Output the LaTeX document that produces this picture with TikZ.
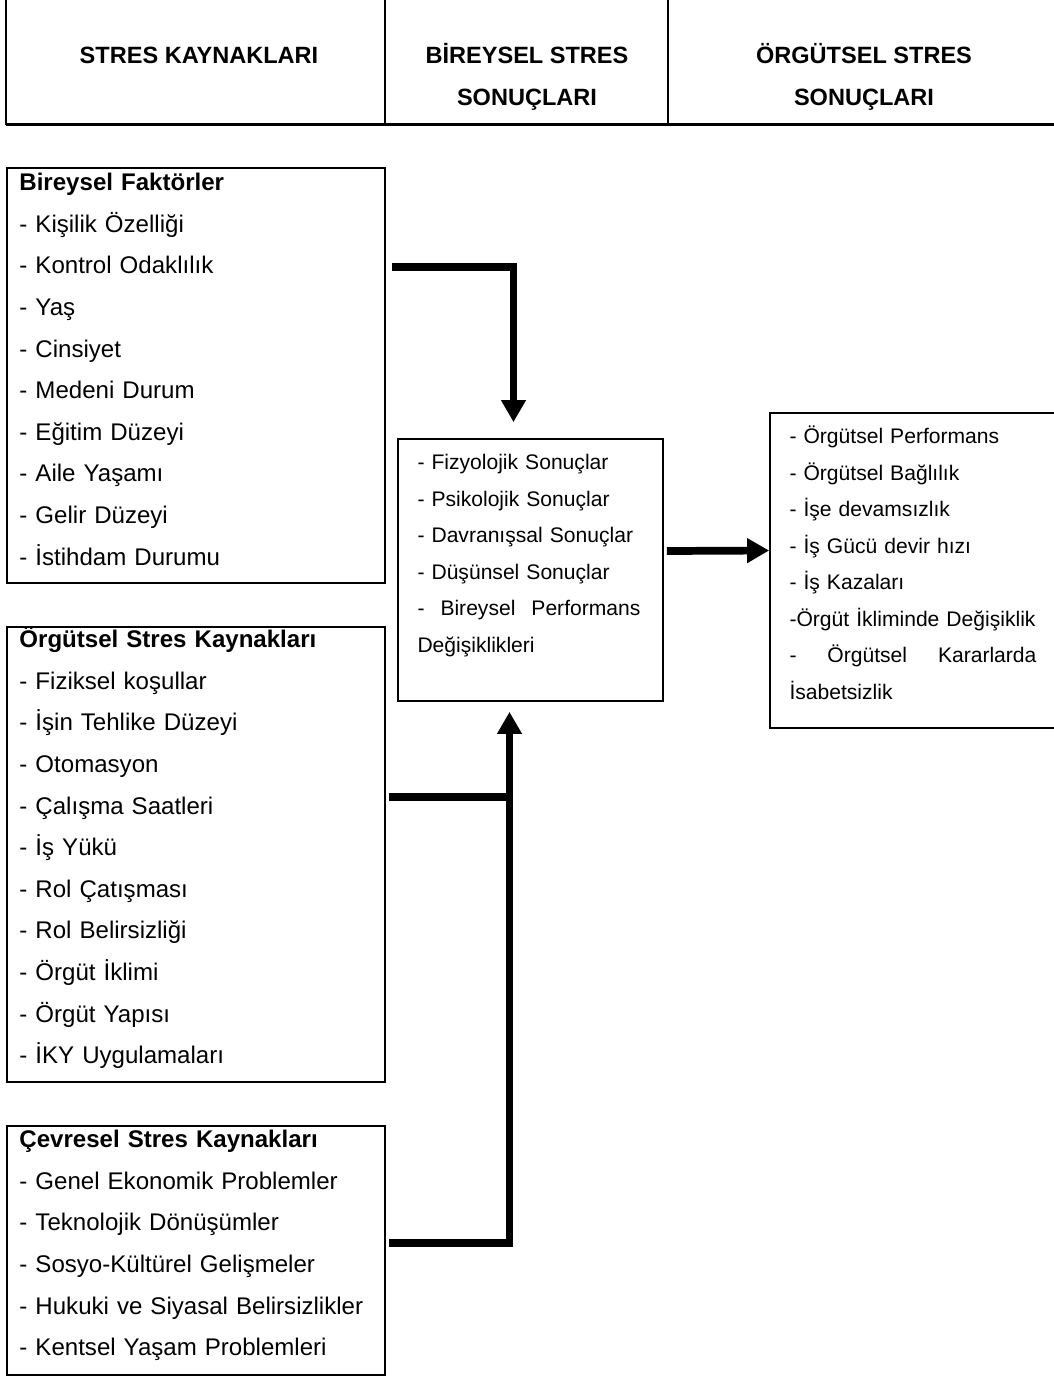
\documentclass[tikz,border=0pt]{standalone}
\usepackage{fontspec}
\setmainfont{Liberation Sans}
\usepackage{tikz}
\usetikzlibrary{arrows.meta,positioning,calc}
\newcommand\boxstrut{\rule{0pt}{1em}}
\tikzset{
  framebox/.style={
    rectangle, draw=black, line width=1.1pt, inner sep=0pt
  },
  listtext/.style={
    anchor=north west, inner sep=0pt, align=left,
    font=\fontsize{13.7}{23.7}\selectfont
  },
  smalllist/.style={
    listtext, font=\fontsize{12}{20.8}\selectfont
  },
  headtext/.style={
    anchor=north, inner sep=0pt, align=center,
    font=\bfseries\fontsize{13.4}{23.9}\selectfont
  },
  thickarrow/.style={
    line width=4.4pt, -{Triangle[length=0.44cm,width=0.47cm]}
  },
  thickbar/.style={
    line width=4.4pt
  },
}
\begin{document}
\begin{tikzpicture}[x=0.02cm, y=-0.02cm]
  \useasboundingbox (0,0) rectangle (1054,1376);

  \draw[line width=0.8pt] (6,0) -- (6,125) (385,0) -- (385,125) (668,0) -- (668,125);
  \draw[line width=1.3pt] (6,124.5) -- (1054,124.5);
  \node[headtext] (hdrsrc) at (199,40) {\boxstrut STRES KAYNAKLARI};
  \node[headtext] (hdrbir) at (527,40) {\boxstrut BİREYSEL STRES\\SONUÇLARI};
  \node[headtext] (hdrorg) at (864,40) {\boxstrut ÖRGÜTSEL STRES\\SONUÇLARI};

  \node[framebox, minimum width=7.56cm, minimum height=8.3cm] (bfak) at (196,375.5) {};
  \node[framebox, minimum width=7.56cm, minimum height=9.1cm] (orgk) at (196,854.5) {};
  \node[framebox, minimum width=7.56cm, minimum height=4.98cm] (cevk) at (196,1250.5) {};
  \node[framebox, line width=1pt, minimum width=5.3cm, minimum height=5.24cm] (bsonuc) at (530.5,570) {};
  \node[framebox, line width=1pt, minimum width=5.88cm, minimum height=6.3cm] (osonuc) at (917,570.5) {};

  \node[listtext, text width=7.2cm] (bfaktxt) at ([shift={(13,-1)}]bfak.north west) {%
    \boxstrut\textbf{Bireysel Faktörler}\\
    - Kişilik Özelliği\\
    - Kontrol Odaklılık\\
    - Yaş\\
    - Cinsiyet\\
    - Medeni Durum\\
    - Eğitim Düzeyi\\
    - Aile Yaşamı\\
    - Gelir Düzeyi\\
    - İstihdam Durumu};
  \node[listtext, text width=7.2cm] (orgktxt) at ([shift={(13,-3)}]orgk.north west) {%
    \boxstrut\textbf{Örgütsel Stres Kaynakları}\\
    - Fiziksel koşullar\\
    - İşin Tehlike Düzeyi\\
    - Otomasyon\\
    - Çalışma Saatleri\\
    - İş Yükü\\
    - Rol Çatışması\\
    - Rol Belirsizliği\\
    - Örgüt İklimi\\
    - Örgüt Yapısı\\
    - İKY Uygulamaları};
  \node[listtext, text width=7.2cm] (cevktxt) at ([shift={(13,-2)}]cevk.north west) {%
    \boxstrut\textbf{Çevresel Stres Kaynakları}\\
    - Genel Ekonomik Problemler\\
    - Teknolojik Dönüşümler\\
    - Sosyo-Kültürel Gelişmeler\\
    - Hukuki ve Siyasal Belirsizlikler\\
    - Kentsel Yaşam Problemleri};
  \node[smalllist, text width=4.6cm] (bsonuctxt) at ([shift={(20,10)}]bsonuc.north west) {%
    \boxstrut- Fizyolojik Sonuçlar\\
    - Psikolojik Sonuçlar\\
    - Davranışsal Sonuçlar\\
    - Düşünsel Sonuçlar\\
    \makebox[4.46cm][l]{-\hfill Bireysel\hfill Performans}\\
    Değişiklikleri};
  \node[smalllist, text width=5.1cm] (osonuctxt) at ([shift={(20,10)}]osonuc.north west) {%
    \boxstrut- Örgütsel Performans\\
    - Örgütsel Bağlılık\\
    - İşe devamsızlık\\
    - İş Gücü devir hızı\\
    - İş Kazaları\\
    -Örgüt İkliminde Değişiklik\\
    \makebox[4.94cm][l]{-\hfill Örgütsel\hfill Kararlarda}\\
    İsabetsizlik};

  \coordinate (risept) at ([shift={(-21,10)}]bsonuc.south);
  \draw[thickarrow] ([shift={(6,100)}]bfak.north east) -| ([shift={(-17,-16)}]bsonuc.north);
  \draw[thickarrow] ([shift={(3,118)}]cevk.north east) -| (risept);
  \draw[thickbar] ([shift={(3,171)}]orgk.north east) coordinate (orgout) -- (orgout -| risept);
  \draw[thickarrow] ([shift={(3,-19)}]bsonuc.east) -- ([shift={(0,-20)}]osonuc.west);
\end{tikzpicture}
\end{document}
